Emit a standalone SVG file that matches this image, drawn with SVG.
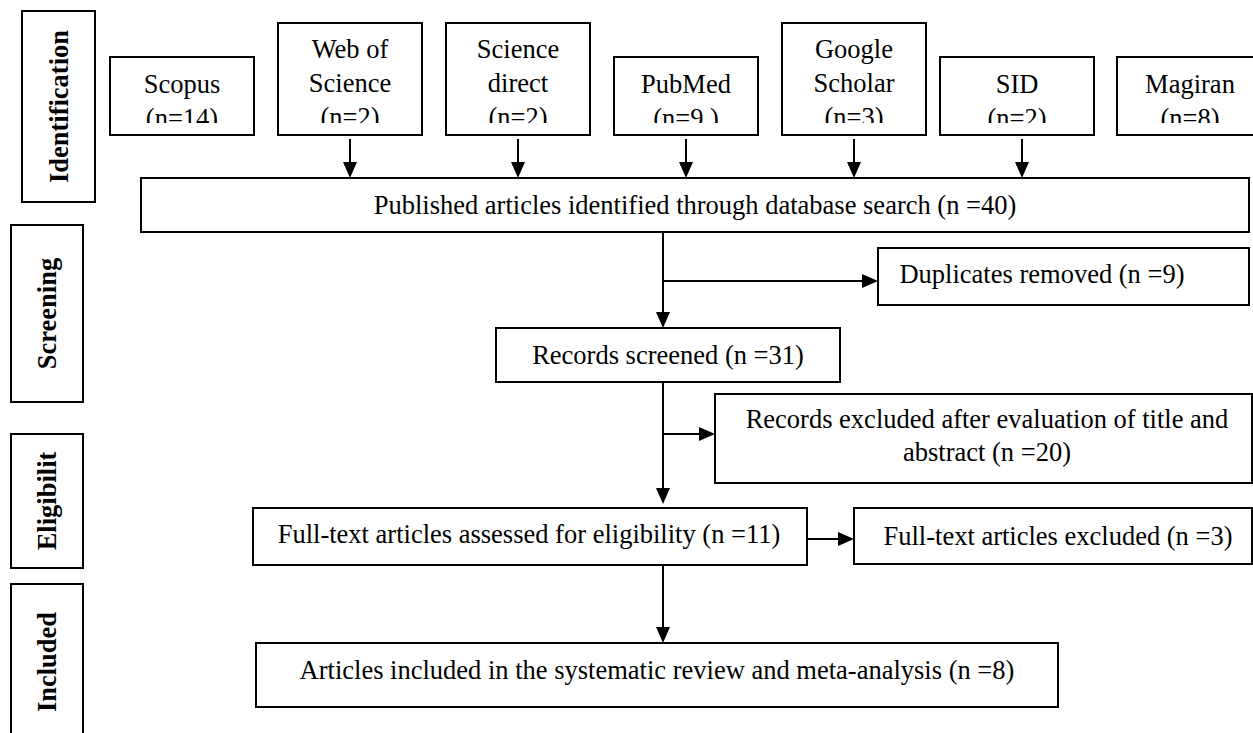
<svg xmlns="http://www.w3.org/2000/svg" width="1253" height="733" viewBox="0 0 1253 733">
<style>
.box{fill:#fff;stroke:#000;stroke-width:2}
.t{font-family:"Liberation Serif","Times New Roman",serif;font-size:26.5px;fill:#000;text-anchor:middle}
.s{font-family:"Liberation Serif","Times New Roman",serif;font-size:26.5px;font-weight:bold;fill:#000;text-anchor:middle}
.c{stroke:#000;stroke-width:2;fill:none}
</style>
<defs>
<marker id="ah" markerUnits="userSpaceOnUse" markerWidth="16" markerHeight="14" refX="12" refY="7" orient="auto">
<path d="M0,0 L16,7 L0,14 z" fill="#000"/>
</marker>
<clipPath id="topclip"><rect x="0" y="0" width="1253" height="123"/></clipPath>
</defs>
<rect width="1253" height="733" fill="#fff"/>

<g id="stage-identification"><rect class="box" x="22" y="11" width="73" height="191"/><text class="s" transform="translate(68,106.5) rotate(-90)">Identification</text></g>
<g id="stage-screening"><rect class="box" x="11" y="225" width="72" height="177"/><text class="s" transform="translate(56,313.5) rotate(-90)">Screening</text></g>
<g id="stage-eligibility"><rect class="box" x="11" y="434" width="72" height="134"/><text class="s" transform="translate(56,501) rotate(-90)">Eligibilit</text></g>
<g id="stage-included"><rect class="box" x="11" y="584" width="72" height="160"/><text class="s" transform="translate(56,662) rotate(-90)">Included</text></g>

<g id="scopus"><rect class="box" x="110" y="57" width="144" height="78"/><g clip-path="url(#topclip)"><text class="t" x="182" y="93">Scopus</text><text class="t" x="182" y="127">(n=14)</text></g></g>
<g id="wos"><rect class="box" x="278" y="23" width="144" height="112"/><g clip-path="url(#topclip)"><text class="t" x="350" y="58">Web of</text><text class="t" x="350" y="92">Science</text><text class="t" x="350" y="126">(n=2)</text></g></g>
<g id="sciencedirect"><rect class="box" x="446" y="23" width="144" height="112"/><g clip-path="url(#topclip)"><text class="t" x="518" y="58">Science</text><text class="t" x="518" y="92">direct</text><text class="t" x="518" y="126">(n=2)</text></g></g>
<g id="pubmed"><rect class="box" x="614" y="57" width="144" height="78"/><g clip-path="url(#topclip)"><text class="t" x="686" y="93">PubMed</text><text class="t" x="686" y="127">(n=9 )</text></g></g>
<g id="google"><rect class="box" x="782" y="23" width="144" height="112"/><g clip-path="url(#topclip)"><text class="t" x="854" y="58">Google</text><text class="t" x="854" y="92">Scholar</text><text class="t" x="854" y="126">(n=3)</text></g></g>
<g id="sid"><rect class="box" x="940" y="57" width="154" height="78"/><g clip-path="url(#topclip)"><text class="t" x="1017" y="93">SID</text><text class="t" x="1017" y="127">(n=2)</text></g></g>
<g id="magiran"><rect class="box" x="1117" y="57" width="146" height="78"/><g clip-path="url(#topclip)"><text class="t" x="1190" y="93">Magiran</text><text class="t" x="1190" y="127">(n=8)</text></g></g>

<g id="published"><rect class="box" x="141" y="178" width="1108" height="54"/><text class="t" x="695" y="214">Published articles identified through database search (n =40)</text></g>
<g id="duplicates"><rect class="box" x="878" y="248" width="371" height="57"/><text class="t" x="1042" y="283">Duplicates removed (n =9)</text></g>
<g id="screened"><rect class="box" x="496" y="328" width="344" height="54"/><text class="t" x="668" y="364">Records screened (n =31)</text></g>
<g id="excluded1"><rect class="box" x="715" y="394" width="537" height="89"/><text class="t" x="987" y="428">Records excluded after evaluation of title and</text><text class="t" x="987" y="461">abstract (n =20)</text></g>
<g id="fulltext"><rect class="box" x="253" y="508" width="554" height="57"/><text class="t" x="529" y="543">Full-text articles assessed for eligibility (n =11)</text></g>
<g id="excluded2"><rect class="box" x="854" y="508" width="398" height="56"/><text class="t" x="1058" y="545">Full-text articles excluded (n =3)</text></g>
<g id="included"><rect class="box" x="256" y="643" width="802" height="64"/><text class="t" x="657" y="679">Articles included in the systematic review and meta-analysis (n =8)</text></g>

<g id="connectors">
<line class="c" x1="350" y1="139" x2="350" y2="174" marker-end="url(#ah)"/>
<line class="c" x1="518" y1="139" x2="518" y2="174" marker-end="url(#ah)"/>
<line class="c" x1="686" y1="139" x2="686" y2="174" marker-end="url(#ah)"/>
<line class="c" x1="854" y1="139" x2="854" y2="174" marker-end="url(#ah)"/>
<line class="c" x1="1022" y1="139" x2="1022" y2="174" marker-end="url(#ah)"/>
<line class="c" x1="663" y1="232" x2="663" y2="324" marker-end="url(#ah)"/>
<line class="c" x1="663" y1="281" x2="874" y2="281" marker-end="url(#ah)"/>
<line class="c" x1="663" y1="382" x2="663" y2="500" marker-end="url(#ah)"/>
<line class="c" x1="663" y1="434" x2="711" y2="434" marker-end="url(#ah)"/>
<line class="c" x1="807" y1="539" x2="850" y2="539" marker-end="url(#ah)"/>
<line class="c" x1="663" y1="565" x2="663" y2="639" marker-end="url(#ah)"/>
</g>
</svg>
